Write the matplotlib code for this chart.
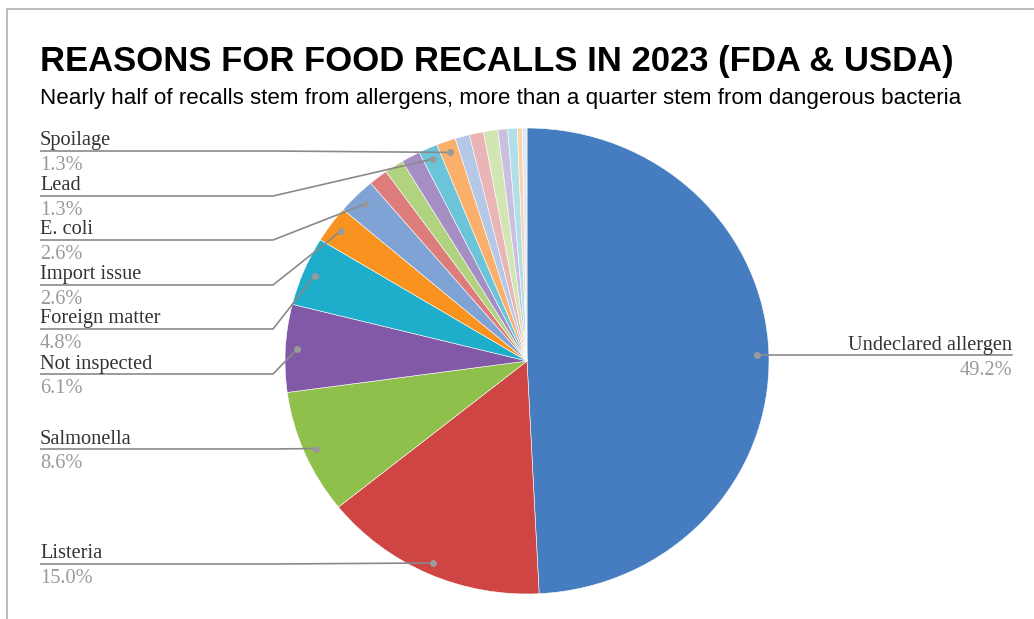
import numpy as np
import matplotlib
matplotlib.use('Agg')
import matplotlib.pyplot as plt

# recall counts by reason, clockwise from the top of the pie
reasons = ['Undeclared allergen', 'Listeria', 'Salmonella', 'Not inspected',
           'Foreign matter', 'Import issue', 'E. coli', '', '', '',
           'Lead', 'Spoilage', '', '', '', '', '', '', '']
counts = [154, 47, 27, 19, 15, 8, 8, 4, 4, 4, 4, 4, 3, 3, 3, 2, 2, 1, 1]
colors = ['#467dc1', '#cf4543', '#90c04c', '#8159a6', '#1eadca', '#f7931e',
          '#7ea3d4', '#dc7c7b', '#b1d27e', '#a58ec4', '#6cc4d8', '#fab06a',
          '#b5c8e8', '#eab5b6', '#d2e6b4', '#cbbfdf', '#b0dfea', '#fbd3aa',
          '#dfe8f5']

# left-hand labels: reason and the y of its leader line
left_labels = ['Spoilage', 'Lead', 'E. coli', 'Import issue', 'Foreign matter',
               'Not inspected', 'Salmonella', 'Listeria']
left_line_y = [151, 196, 240, 285, 329, 374, 449, 564]

title = 'REASONS FOR FOOD RECALLS IN 2023 (FDA & USDA)'
subtitle = ('Nearly half of recalls stem from allergens, more than a quarter '
            'stem from dangerous bacteria')

W, H = 1034, 619
cx, cy, rx, ry = 527, 361, 242, 233

fig = plt.figure(figsize=(W / 100, H / 100), dpi=100)

# pie axes, slightly wider than tall
pax = fig.add_axes([(cx - rx) / W, (H - cy - ry) / H, 2 * rx / W, 2 * ry / H])
pax.pie(counts, colors=colors, startangle=90, counterclock=False, radius=1,
        wedgeprops=dict(linewidth=0.4, edgecolor='white'))
pax.set_aspect('auto')
pax.set_xlim(-1, 1)
pax.set_ylim(-1, 1)
pax.axis('off')

# overlay in pixel coordinates for text and leaders
ax = fig.add_axes([0, 0, 1, 1])
ax.set_xlim(0, W)
ax.set_ylim(H, 0)
ax.axis('off')
ax.patch.set_alpha(0)

total = sum(counts)
edges = np.cumsum([0] + counts) / total * 360


def dot_pos(name):
    i = reasons.index(name)
    mid = np.radians((edges[i] + edges[i + 1]) / 2)
    return cx + 0.95 * rx * np.sin(mid), cy - 0.95 * ry * np.cos(mid)


def pct(name):
    return '%.1f%%' % (counts[reasons.index(name)] / total * 100)


line_c = '#8a8a8a'
name_font = dict(family='Liberation Serif', size=14.7, color='#333333')
pct_font = dict(family='Liberation Serif', size=14.7, color='#9a9a9a')

for name, ly in zip(left_labels, left_line_y):
    dx, dy = dot_pos(name)
    ax.plot([40, 273, dx], [ly, ly, dy], color=line_c, lw=1.2,
            solid_capstyle='butt')
    ax.plot(dx, dy, 'o', color='#9a9a9a', ms=5, mec='none')
    ax.text(40, ly - 5.5, name, va='baseline', ha='left', **name_font)
    ax.text(40, ly + 5, pct(name), va='top', ha='left', **pct_font)

# right-hand label
dx, dy = dot_pos('Undeclared allergen')
ax.plot([dx, 1012], [dy, dy], color=line_c, lw=1.2)
ax.plot(dx, dy, 'o', color='#9a9a9a', ms=5, mec='none')
ax.text(1012, dy - 5, 'Undeclared allergen', va='baseline', ha='right',
        **name_font)
ax.text(1012, dy + 5.5, pct('Undeclared allergen'), va='top', ha='right',
        **pct_font)

# titles
ax.text(40, 71, title, family='Liberation Sans', weight='bold', size=24.9,
        va='baseline', ha='left', color='black')
ax.text(40, 104, subtitle, family='Liberation Sans', size=16.1,
        va='baseline', ha='left', color='black')

# card border on the top and left edges
ax.plot([7, 7, W], [H, 9, 9], color='#b0b0b0', lw=1.2)

fig.savefig('out.png', dpi=100)
